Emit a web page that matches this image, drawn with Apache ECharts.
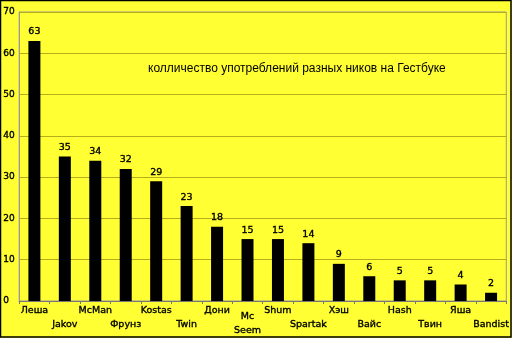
<!DOCTYPE html>
<html><head><meta charset="utf-8">
<script src="https://cdn.jsdelivr.net/npm/echarts@6/dist/echarts.min.js"></script>
<style>html,body{margin:0;padding:0;background:#ffff33}#c{width:512px;height:338px}</style>
</head><body><div id="c"></div>
<script>
const categories = ['Леша','Jakov','McMan','Фрунз','Kostas','Twin','Дони','Mc Seem','Shum','Spartak','Хэш','Вайс','Hash','Твин','Яша','Bandist'];
const values = [63,35,34,32,29,23,18,15,15,14,9,6,5,5,4,2];
const yTicks = [0,10,20,30,40,50,60,70];
const titleText = 'колличество употреблений разных ников на Гестбуке';

const txt = {color:'#000', fontFamily:'"DejaVu Sans", Verdana, sans-serif', textBorderColor:'#000', textBorderWidth:0.35};
const chart = echarts.init(document.getElementById('c'), null, {renderer:'canvas'});
chart.setOption({
  backgroundColor:'#ffff33',
  animation:false,
  grid:{left:19, right:3, top:12, bottom:36, show:true, borderColor:'#999999', borderWidth:1, backgroundColor:'transparent'},
  graphic:[
    {type:'rect', shape:{x:0.5,y:0.5,width:510.5,height:336.5}, style:{fill:'none', stroke:'#000', lineWidth:1.5}, z:100},
    {type:'text', left:148, top:63, style:{text:titleText, font:'12px "Liberation Sans", Arial, sans-serif', fill:'#000'}}
  ],
  xAxis:{
    type:'category', data:categories, boundaryGap:true,
    axisLine:{lineStyle:{color:'#777', width:1}},
    axisTick:{show:true, length:3, lineStyle:{color:'#777'}},
    axisLabel:Object.assign({
      interval:0, margin:3, fontSize:9.5, lineHeight:14,
      formatter:function(v,i){
        if(v==='Mc Seem') return '{g| }\nMc\nSeem';
        return i%2 ? '\n'+v : v;
      },
      rich:{g:{lineHeight:6, fontSize:4}}
    }, txt)
  },
  yAxis:{
    type:'value', min:0, max:70, interval:10,
    axisLine:{show:true, lineStyle:{color:'#999'}},
    axisTick:{show:false},
    splitLine:{lineStyle:{color:'#b5ad1a', width:1}},
    axisLabel:Object.assign({align:'left', margin:16, fontSize:9, verticalAlign:'middle', padding:[0,0,2,0]}, txt)
  },
  series:[{
    type:'bar', data:values, barWidth:12,
    itemStyle:{color:'#000'},
    label:Object.assign({show:true, position:'top', distance:4, fontSize:9.5}, txt)
  }]
});
</script></body></html>
